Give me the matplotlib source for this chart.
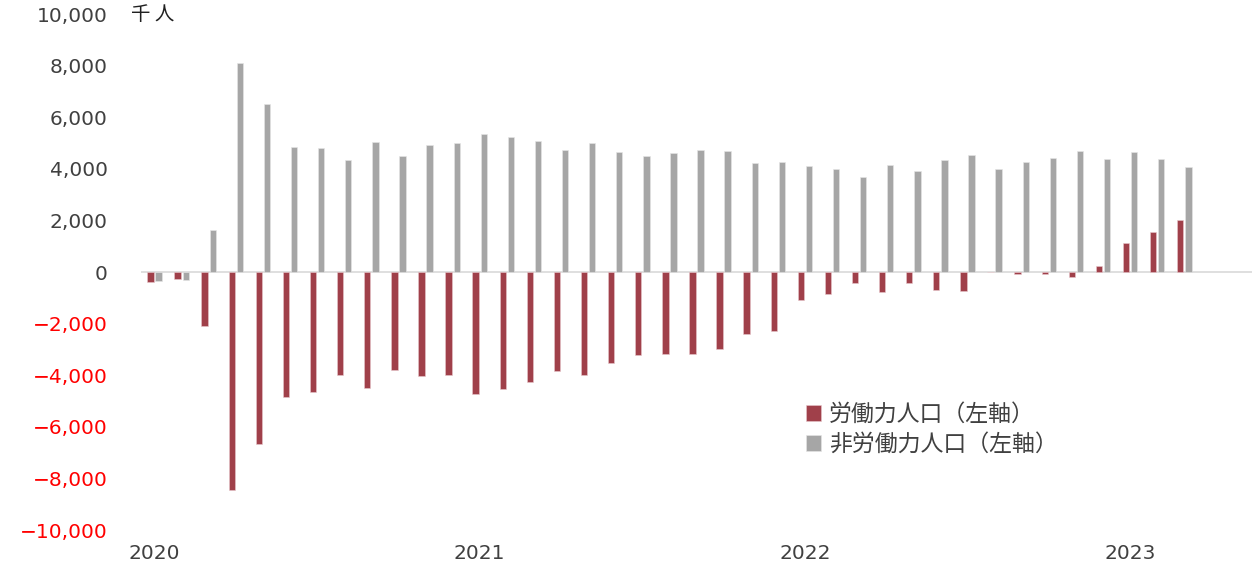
import matplotlib.pyplot as plt
import numpy as np

# monthly change vs. pre-pandemic level, thousand persons (Jan 2020 - Mar 2023)
months = [f"{y}-{m:02d}" for y in range(2020, 2024) for m in range(1, 13)][:39]

labor_force = [
    -375, -270, -2085, -8440, -6670, -4830, -4635, -4010, -4505, -3780, -4040, -3975,
    -4710, -4545, -4270, -3820, -3990, -3535, -3235, -3195, -3185, -2990, -2410, -2305,
    -1085, -855, -415, -765, -445, -710, -725, -10, -95, -65, -195, 245,
    1115, 1540, 2020,
]
not_in_labor_force = [
    -340, -320, 1630, 8115, 6510, 4830, 4790, 4350, 5035, 4505, 4920, 4995,
    5345, 5245, 5060, 4710, 4995, 4660, 4505, 4595, 4740, 4685, 4220, 4245,
    4090, 3985, 3665, 4130, 3915, 4350, 4530, 3985, 4245, 4415, 4700, 4390,
    4645, 4375, 4065,
]
year_labels = ["2020", "2021", "2022", "2023"]
yticks = list(range(-10000, 10001, 2000))

red = "#A0404A"
gray = "#A6A6A6"
plt.rcParams['font.family'] = ['DejaVu Sans', 'Noto Sans CJK JP']

fig = plt.figure(figsize=(12.52, 5.63), dpi=100)
ax = fig.add_axes([141 / 1252, 1 - 530 / 563, 1 - 141 / 1252, (530 - 14) / 563])

x = np.arange(len(months))
w = 0.235
ax.bar(x - 0.15, labor_force, w, color=red, edgecolor="#E8C8CC", linewidth=0.4,
       label="労働力人口（左軸）")
ax.bar(x + 0.15, not_in_labor_force, w, color=gray, edgecolor="#E6E6E6", linewidth=0.4,
       label="非労働力人口（左軸）")

ax.axhline(0, color="#D9D9D9", linewidth=1.2, zorder=0)
ax.set_xlim(-0.5, 40.5)
ax.set_ylim(-10000, 10000)

for s in ax.spines.values():
    s.set_visible(False)

ax.set_yticks(yticks)
ylabels = [f"{v:,}".replace("-", "−") for v in yticks]
ax.set_yticklabels(ylabels)
ax.tick_params(axis="y", length=0, pad=24, labelsize=14.5)
for lab, v in zip(ax.get_yticklabels(), yticks):
    lab.set_color("#FF0000" if v < 0 else "#404040")

ax.set_xticks([0, 12, 24, 36])
ax.set_xticklabels(year_labels)
ax.tick_params(axis="x", length=0, pad=10, labelsize=14.5, labelcolor="#404040")

fig.text(131 / 1252, 1 - 15 / 563, "千 人", fontsize=14, family="Noto Sans CJK JP",
         color="#202020", va="center", ha="left")

leg = ax.legend(loc="upper left", bbox_to_anchor=((797 - 141) / 1111, (530 - 394) / 516),
                frameon=False, prop={"family": "Noto Sans CJK JP", "size": 16.5},
                handlelength=0.65, handleheight=0.65, handletextpad=0.35, labelspacing=0.3,
                borderaxespad=0)
for t in leg.get_texts():
    t.set_color("#404040")

fig.savefig("out.png", dpi=100)
